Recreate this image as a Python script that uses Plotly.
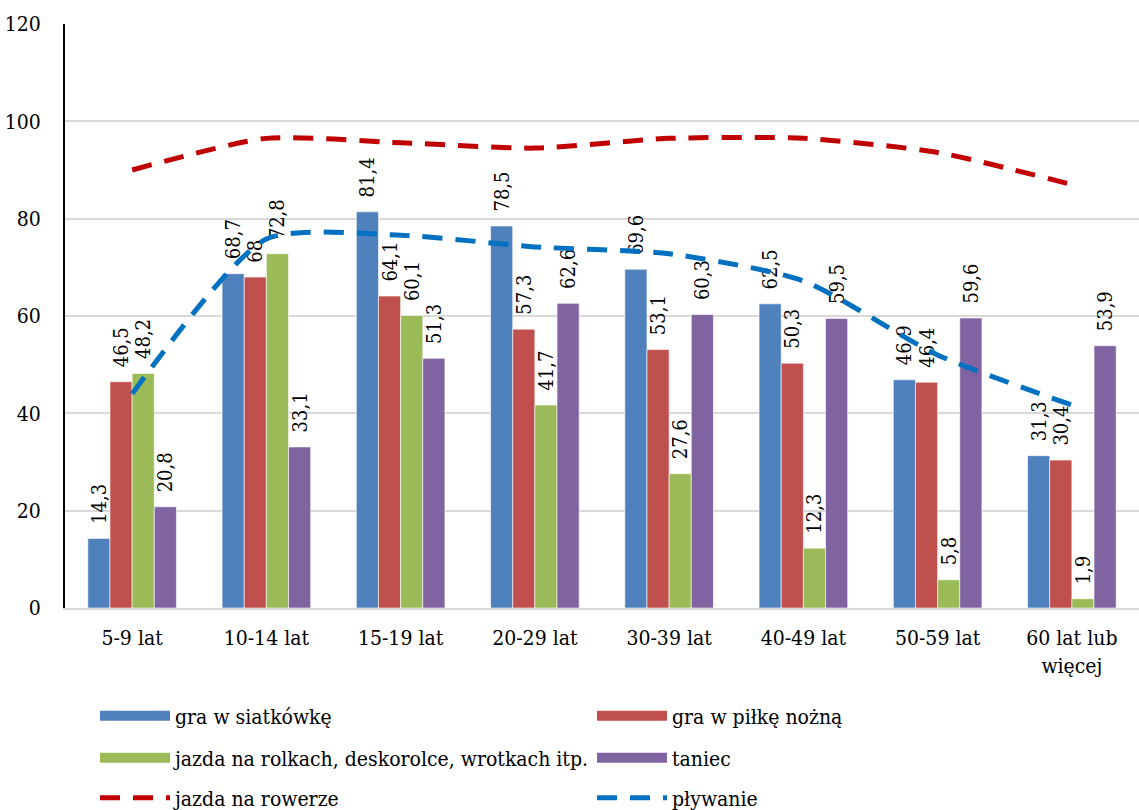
import plotly.graph_objects as go

categories = ["5-9 lat", "10-14 lat", "15-19 lat", "20-29 lat", "30-39 lat",
              "40-49 lat", "50-59 lat", "60 lat lub<br>więcej"]

siatkowka = [14.3, 68.7, 81.4, 78.5, 69.6, 62.5, 46.9, 31.3]
pilka = [46.5, 68, 64.1, 57.3, 53.1, 50.3, 46.4, 30.4]
rolki = [48.2, 72.8, 60.1, 41.7, 27.6, 12.3, 5.8, 1.9]
taniec = [20.8, 33.1, 51.3, 62.6, 60.3, 59.5, 59.6, 53.9]
rower = [90.0, 96.5, 95.6, 94.5, 96.5, 96.5, 93.6, 87.0]
plywanie = [44.0, 75.8, 76.6, 74.2, 72.8, 67.2, 52.0, 41.7]

bar_series = [
    ("gra w siatkówkę", siatkowka, "#4F81BD", "legend"),
    ("gra w piłkę nożną", pilka, "#C0504D", "legend"),
    ("jazda na rolkach, deskorolce, wrotkach itp.", rolki, "#9BBB59", "legend2"),
    ("taniec", taniec, "#8064A2", "legend2"),
]
line_series = [
    ("jazda na rowerze", rower, "#C00000", "legend3"),
    ("pływanie", plywanie, "#0070C0", "legend3"),
]

FONT = '"DejaVu Serif Condensed", "DejaVu Serif", serif'

def fmt(v):
    # decimal comma; leading non-breaking spaces lift the rotated label off the bar
    return "\u00a0\u00a0" + f"{v:g}".replace(".", ",")

fig = go.Figure()
for i, (name, vals, color, lg) in enumerate(bar_series):
    fig.add_trace(go.Bar(
        x=categories, y=vals, name=name, legendgroup=f"g{i}", showlegend=False,
        marker=dict(color=color, line=dict(color="rgba(255,255,255,0.6)", width=1)),
        text=[fmt(v) for v in vals], textposition="outside", textangle=-90,
        textfont=dict(family=FONT, size=20, color="black"),
        constraintext="none", cliponaxis=False,
    ))
    # legend swatch (wide rectangle) linked to the bar trace
    fig.add_trace(go.Scatter(
        x=[None], y=[None], name=name, legendgroup=f"g{i}", legend=lg,
        mode="lines", line=dict(color=color, width=15),
        hoverinfo="skip",
    ))
for name, vals, color, lg in line_series:
    fig.add_trace(go.Scatter(
        x=categories, y=vals, name=name, mode="lines", legend=lg,
        line=dict(color=color, width=5, dash="20px,13px", shape="spline", smoothing=0.65),
    ))

legend_common = dict(
    orientation="h", xref="container", yref="container",
    x=95 / 1139, xanchor="left", yanchor="middle",
    entrywidth=412, entrywidthmode="pixels", itemwidth=70,
    font=dict(family=FONT, size=21, color="black"),
    bgcolor="rgba(0,0,0,0)", traceorder="normal",
)

fig.update_layout(
    width=1139, height=810,
    margin=dict(l=65, r=0, t=24, b=202, autoexpand=False),
    paper_bgcolor="white", plot_bgcolor="white",
    font=dict(family=FONT, size=20, color="black"),
    barmode="group", bargap=0.34, bargroupgap=0,
    showlegend=True,
    legend=dict(legend_common, y=1 - 716 / 810),
    legend2=dict(legend_common, y=1 - 758 / 810),
    legend3=dict(legend_common, y=1 - 798 / 810),
)
fig.update_xaxes(
    showline=True, linecolor="#D9D9D9", linewidth=2,
    showgrid=False, ticks="", tickfont=dict(family=FONT, size=21),
    ticklabelstandoff=10,
)
fig.update_yaxes(
    range=[0, 120], dtick=20, showline=True, linecolor="black", linewidth=2,
    showgrid=True, gridcolor="#D9D9D9", gridwidth=1.5, zeroline=False,
    ticks="", tickfont=dict(family=FONT, size=21), ticklabelstandoff=18,
)

fig.write_html("out.html", config={"displayModeBar": False},
               post_script="document.body.style.margin='0';")
